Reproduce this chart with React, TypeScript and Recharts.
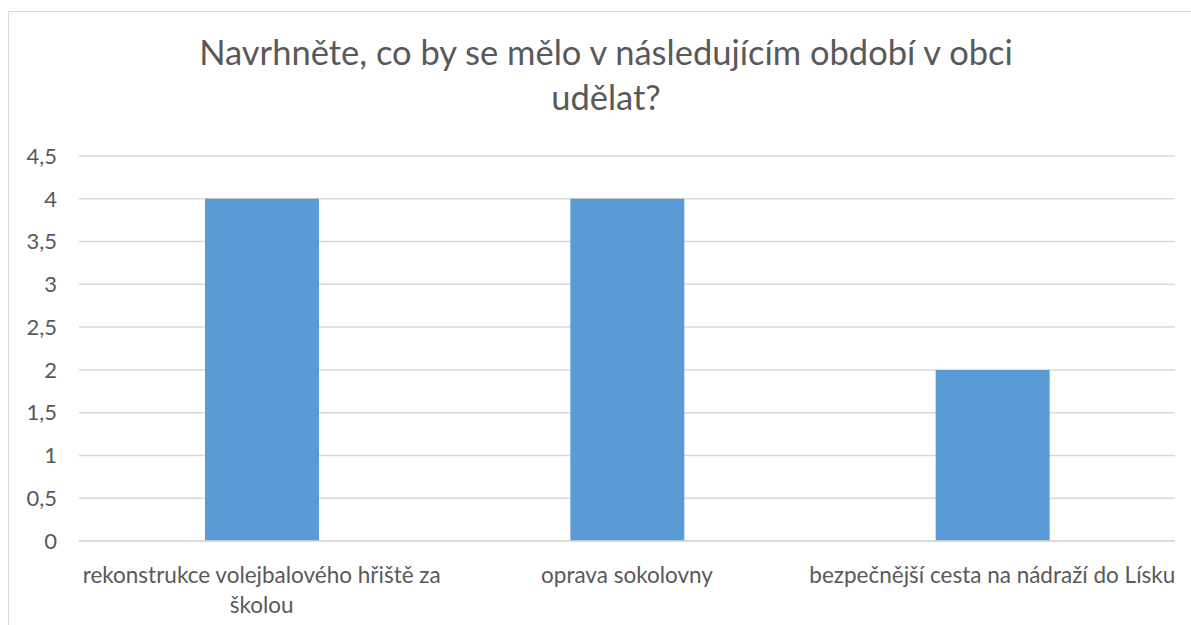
import { BarChart, Bar, XAxis, YAxis, CartesianGrid } from "recharts";

const categories = [
  "rekonstrukce volejbalového hřiště za\nškolou",
  "oprava sokolovny",
  "bezpečnější cesta na nádraží do Lísku",
];
const counts = [4, 4, 2];
const yTicks = [0, 0.5, 1, 1.5, 2, 2.5, 3, 3.5, 4, 4.5];
const titleLines = ["Navrhněte, co by se mělo v následujícím období v obci", "udělat?"];

const data = categories.map((name, i) => ({ name, value: counts[i] }));

const FONT = "Lato, 'Open Sans', sans-serif";
const TEXT = "#595959";

function CategoryTick({ x, y, payload }: { x?: number; y?: number; payload?: { value: string } }) {
  const lines = String(payload?.value ?? "").split("\n");
  return (
    <text x={x} y={y} textAnchor="middle" fill={TEXT} fontSize={22.5} fontFamily={FONT}>
      {lines.map((l, i) => (
        <tspan key={i} x={x} dy={i === 0 ? 42 : 30}>
          {l}
        </tspan>
      ))}
    </text>
  );
}

export default function App() {
  return (
    <div style={{ position: "absolute", left: 0, top: 0, width: 1191, height: 625, background: "#fff", overflow: "hidden" }}>
      <div
        style={{
          position: "absolute",
          left: 8,
          top: 11,
          width: 1200,
          height: 640,
          border: "1.5px solid #D9D9D9",
        }}
      />
      <div
        style={{
          position: "absolute",
          left: 0,
          top: 29,
          width: 1212,
          textAlign: "center",
          fontFamily: FONT,
          fontSize: 34.5,
          lineHeight: "45px",
          color: TEXT,
        }}
      >
        {titleLines.map((t) => (
          <div key={t}>{t}</div>
        ))}
      </div>
      <div style={{ position: "absolute", left: 0, top: 0 }}>
        <BarChart width={1191} height={625} data={data} margin={{ top: 156, right: 16, bottom: 0, left: 0 }}>
          <CartesianGrid vertical={false} stroke="#D9D9D9" strokeWidth={1.5} />
          <XAxis
            dataKey="name"
            height={84}
            tickLine={false}
            tickSize={0}
            tickMargin={0}
            axisLine={{ stroke: "#D9D9D9", strokeWidth: 1.5 }}
            tick={<CategoryTick />}
            interval={0}
          />
          <YAxis
            width={79}
            domain={[0, 4.5]}
            ticks={yTicks}
            axisLine={false}
            tickLine={false}
            tickSize={0}
            tickMargin={22}
            tickFormatter={(v: number) => String(v).replace(".", ",")}
            tick={{ fill: TEXT, fontSize: 22, fontFamily: FONT }}
          />
          <Bar dataKey="value" fill="#5B9BD5" barSize={114} isAnimationActive={false} />
        </BarChart>
      </div>
    </div>
  );
}
